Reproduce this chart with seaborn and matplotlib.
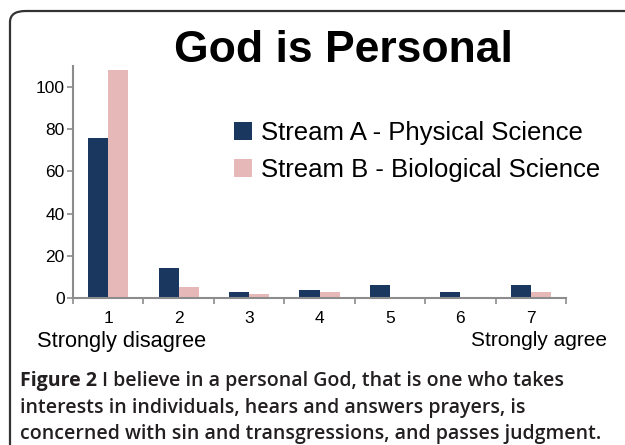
import matplotlib
matplotlib.use("Agg")
import matplotlib.pyplot as plt
import seaborn as sns
import pandas as pd
from matplotlib.patches import FancyBboxPatch

categories = ["1", "2", "3", "4", "5", "6", "7"]
stream_a = [76, 14, 3, 4, 6, 3, 6]
stream_b = [108, 5, 2, 3, 0, 0, 3]
series_names = ["Stream A - Physical Science", "Stream B - Biological Science"]
colors = ["#1a375f", "#e6b9b8"]

df = pd.DataFrame({
    "cat": categories * 2,
    "series": [series_names[0]] * 7 + [series_names[1]] * 7,
    "value": stream_a + stream_b,
})

sns.set_style("white")
plt.rcParams["font.family"] = ["Liberation Sans", "DejaVu Sans"]
plt.rcParams["text.color"] = "black"
plt.rcParams["xtick.color"] = "black"
plt.rcParams["ytick.color"] = "black"

W, H = 625, 445
fig = plt.figure(figsize=(W / 100, H / 100), dpi=100)
ax = fig.add_axes([73 / W, (H - 298) / H, (566 - 73) / W, (298 - 66) / H])

sns.barplot(data=df, x="cat", y="value", hue="series", order=categories,
            hue_order=series_names, palette=colors, width=0.57,
            saturation=1, ax=ax, linewidth=0)

ax.set_ylim(0, 110)
ax.set_xlim(-0.5, 6.5)
ax.set_yticks([0, 20, 40, 60, 80, 100])
ax.set_xlabel("")
ax.set_ylabel("")
for s in ["top", "right"]:
    ax.spines[s].set_visible(False)
for s in ["left", "bottom"]:
    ax.spines[s].set_color("#8c8c8c")
    ax.spines[s].set_linewidth(1.5)
ax.tick_params(axis="y", which="major", left=True, length=4, width=1.2,
               color="#8c8c8c", labelcolor="black", labelsize=12.5, pad=2)
ax.tick_params(axis="x", which="major", bottom=False, labelcolor="black",
               labelsize=12.5, pad=6)
ax.set_xticks([i - 0.5 for i in range(8)], minor=True)
ax.tick_params(axis="x", which="minor", bottom=True, length=4, width=1.2,
               color="#8c8c8c")

leg = ax.legend(loc="upper left", bbox_to_anchor=(234 / W, (H - 121) / H),
                bbox_transform=fig.transFigure, frameon=False,
                fontsize=18.5, handlelength=0.7, handleheight=0.7,
                handletextpad=0.35, labelspacing=0.5, borderpad=0,
                borderaxespad=0)
for t in leg.get_texts():
    t.set_color("black")

fig.text(343 / W, (H - 51) / H, "God is Personal", ha="center", va="center",
         fontsize=32, fontweight="bold", color="black")
fig.text(37 / W, (H - 341) / H, "Strongly disagree", ha="left", va="center",
         fontsize=15.7, color="black")
fig.text(607 / W, (H - 341) / H, "Strongly agree", ha="right", va="center",
         fontsize=15, color="black")

cap_font = ["Open Sans", "DejaVu Sans"]
cap_color = "#231f20"
cap_size = 14
t1 = fig.text(20 / W, (H - 381) / H, "Figure 2", ha="left", va="center",
              fontsize=cap_size, fontweight="bold", family=cap_font,
              color=cap_color)
fig.canvas.draw()
bb = t1.get_window_extent()
fig.text((bb.x1 + 5) / W, (H - 381) / H,
         "I believe in a personal God, that is one who takes",
         ha="left", va="center", fontsize=cap_size, fontweight="semibold",
         family=cap_font, color=cap_color)
fig.text(20 / W, (H - 408) / H,
         "interests in individuals, hears and answers prayers, is",
         ha="left", va="center", fontsize=cap_size, fontweight="semibold",
         family=cap_font, color=cap_color)
fig.text(20 / W, (H - 434) / H,
         "concerned with sin and transgressions, and passes judgment.",
         ha="left", va="center", fontsize=cap_size, fontweight="semibold",
         family=cap_font, color=cap_color)

box = FancyBboxPatch((10 / W, -0.5), 1.5, (H - 11) / H + 0.5,
                     boxstyle="round,pad=0,rounding_size=0.025",
                     transform=fig.transFigure, fill=False,
                     edgecolor="#333333", linewidth=1.6, clip_on=False)
fig.patches.append(box)

fig.savefig("out.png", dpi=100)
